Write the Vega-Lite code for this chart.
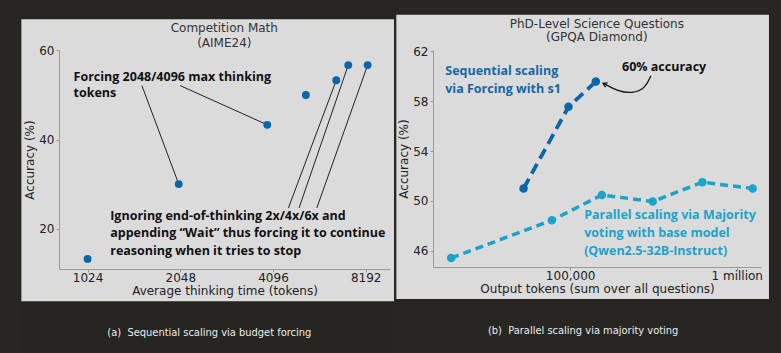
{
  "$schema": "https://vega.github.io/schema/vega-lite/v6.json",
  "background": "#272622",
  "padding": {"left": 21, "top": 14, "right": 12, "bottom": 0},
  "spacing": 2,
  "config": {
    "view": {"stroke": null},
    "axis": {
      "grid": false, "domainColor": "#9a9a9a", "tickColor": "#9a9a9a",
      "labelColor": "#222222", "labelFont": "DejaVu Sans", "labelFontSize": 12,
      "titleColor": "#222222", "titleFont": "DejaVu Sans", "titleFontSize": 12, "titleFontWeight": "normal",
      "labelFlush": false, "labelOverlap": false, "tickSize": 3
    }
  },
  "hconcat": [
    {
      "width": 331, "height": 219,
      "encoding": {
        "x": {"field": "x", "type": "quantitative",
          "scale": {"type": "log", "base": 2, "domain": [827, 9823]},
          "axis": {"zindex": 1, "title": "Average thinking time (tokens)", "values": [1024, 2048, 4096, 8192], "format": "d", "labelPadding": 0, "titlePadding": 2}},
        "y": {"field": "y", "type": "quantitative",
          "scale": {"domain": [10.94, 60.09]},
          "axis": {"zindex": 1, "title": "Accuracy (%)", "values": [20, 40, 60], "labelPadding": 2, "titlePadding": 2}}
      },
      "layer": [
        {"data": {"values": [{"x": 624.2, "x2": 10121, "y": 67.56, "y2": -8.61}]},
         "mark": {"type": "rect", "fill": "#272622", "fillOpacity": 0.01},
         "encoding": {"x2": {"field": "x2"}, "y2": {"field": "y2"}}},
        {"data": {"values": [{"x": 624.2, "x2": 10121, "y": 66.97, "y2": 3.69}]},
         "mark": {"type": "rect", "fill": "#dbdbdb"},
         "encoding": {"x2": {"field": "x2"}, "y2": {"field": "y2"}}},
        {"data": {"values": [
          {"x": 1537, "y": 52.1, "x2": 2024, "y2": 30.0},
          {"x": 2046, "y": 52.1, "x2": 3925, "y2": 43.3},
          {"x": 4597, "y": 24.65, "x2": 6574, "y2": 53.3},
          {"x": 4978, "y": 24.65, "x2": 7190, "y2": 56.7},
          {"x": 5683, "y": 24.65, "x2": 8311, "y2": 56.7}]},
         "mark": {"type": "rule", "color": "#222222", "strokeWidth": 1},
         "encoding": {"x2": {"field": "x2"}, "y2": {"field": "y2"}}},
        {"data": {"values": [
          {"x": 1024, "y": 13.2}, {"x": 2024, "y": 30.0}, {"x": 3925, "y": 43.3},
          {"x": 5238, "y": 50.0}, {"x": 6574, "y": 53.3}, {"x": 7190, "y": 56.7}, {"x": 8311, "y": 56.7}]},
         "mark": {"type": "point", "filled": true, "opacity": 1, "size": 62, "color": "#0b66a8"}},
        {"data": {"values": [
          {"x": 922, "y": 54.09, "text": "Forcing 2048/4096 max thinking"},
          {"x": 922, "y": 50.34, "text": "tokens"},
          {"x": 1213, "y": 22.79, "text": "Ignoring end-of-thinking 2x/4x/6x and"},
          {"x": 1213, "y": 19.03, "text": "appending “Wait” thus forcing it to continue"},
          {"x": 1213, "y": 14.92, "text": "reasoning when it tries to stop"}]},
         "mark": {"type": "text", "align": "left", "baseline": "middle", "font": "Open Sans", "fontWeight": "bold", "fontSize": 12.5, "color": "#111111"},
         "encoding": {"text": {"field": "text"}}},
        {"data": {"values": [
          {"x": 2846, "y": 64.94, "text": "Competition Math"},
          {"x": 2846, "y": 61.67, "text": "(AIME24)"}]},
         "mark": {"type": "text", "align": "center", "baseline": "middle", "font": "DejaVu Sans", "fontSize": 12, "color": "#333333"},
         "encoding": {"text": {"field": "text"}}},
        {"data": {"values": [{"x": 2544, "y": -3.41, "text": "(a)\u00a0 Sequential scaling via budget forcing"}]},
         "mark": {"type": "text", "align": "center", "baseline": "middle", "font": "Liberation Sans Narrow, DejaVu Sans Condensed, Roboto Condensed, sans-serif", "fontSize": 11, "color": "#ececec"},
         "encoding": {"text": {"field": "text"}}}
      ]
    },
    {
      "width": 328, "height": 217,
      "encoding": {
        "x": {"field": "x", "type": "quantitative",
          "scale": {"type": "log", "domain": [15010, 1399000]},
          "axis": {"zindex": 1, "title": "Output tokens (sum over all questions)", "values": [100000, 1000000],
            "labelExpr": "datum.value == 100000 ? '100,000' : '1 million'", "labelPadding": 0, "titlePadding": 2}},
        "y": {"field": "y", "type": "quantitative",
          "scale": {"domain": [44.70, 62.11]},
          "axis": {"zindex": 1, "title": "Accuracy (%)", "values": [46, 50, 54, 58, 62], "labelPadding": 2, "titlePadding": 2}}
      },
      "layer": [
        {"data": {"values": [{"x": 9042, "x2": 1562000, "y": 64.94, "y2": 42.13}]},
         "mark": {"type": "rect", "fill": "#dbdbdb"},
         "encoding": {"x2": {"field": "x2"}, "y2": {"field": "y2"}}},
        {"data": {"values": [
          {"x": 19300, "y": 45.42}, {"x": 77600, "y": 48.45}, {"x": 155000, "y": 50.48},
          {"x": 313000, "y": 49.95}, {"x": 622000, "y": 51.5}, {"x": 1247000, "y": 51.0}]},
         "layer": [
           {"mark": {"type": "line", "color": "#1ba4cb", "strokeWidth": 3.5, "strokeDash": [8, 5]}},
           {"mark": {"type": "point", "filled": true, "opacity": 1, "size": 72, "color": "#1ba4cb"}}
         ]},
        {"data": {"values": [{"x": 52500, "y": 51.0}, {"x": 97700, "y": 57.55}, {"x": 142600, "y": 59.58}]},
         "layer": [
           {"mark": {"type": "line", "color": "#0b66a8", "strokeWidth": 3.8, "strokeDash": [11, 6]}},
           {"mark": {"type": "point", "filled": true, "opacity": 1, "size": 72, "color": "#0b66a8"}}
         ]},
        {"data": {"values": [
          {"x": 17780, "y": 60.44, "text": "Sequential scaling"},
          {"x": 17780, "y": 58.97, "text": "via Forcing with s1"}]},
         "mark": {"type": "text", "align": "left", "baseline": "middle", "font": "Open Sans", "fontWeight": "bold", "fontSize": 12.5, "color": "#1567a6"},
         "encoding": {"text": {"field": "text"}}},
        {"data": {"values": [
          {"x": 121300, "y": 48.85, "text": "Parallel scaling via Majority"},
          {"x": 121300, "y": 47.41, "text": "voting with base model"},
          {"x": 121300, "y": 45.98, "text": "(Qwen2.5-32B-Instruct)"}]},
         "mark": {"type": "text", "align": "left", "baseline": "middle", "font": "Open Sans", "fontWeight": "bold", "fontSize": 12.5, "color": "#1ba4cb"},
         "encoding": {"text": {"field": "text"}}},
        {"data": {"values": [{"x": 366500, "y": 60.71, "text": "60% accuracy"}]},
         "mark": {"type": "text", "align": "center", "baseline": "middle", "font": "Open Sans", "fontWeight": "bold", "fontSize": 12.5, "color": "#111111"},
         "encoding": {"text": {"field": "text"}}},
        {"data": {"values": [
          {"o": 1, "x": 304800, "y": 60.04}, {"o": 2, "x": 281800, "y": 59.0}, {"o": 3, "x": 235500, "y": 58.62},
          {"o": 4, "x": 194100, "y": 58.80}, {"o": 5, "x": 157800, "y": 59.44}]},
         "mark": {"type": "line", "interpolate": "basis", "color": "#111111", "strokeWidth": 1.3},
         "encoding": {"order": {"field": "o", "type": "quantitative"}}},
        {"data": {"values": [{"x": 157800, "y": 59.44}]},
         "mark": {"type": "point", "shape": "M 1.4 -0.9 L 0 0 L 1.4 0.9", "filled": false, "opacity": 1, "size": 30, "angle": 27, "color": "#111111", "strokeWidth": 1.4}},
        {"data": {"values": [
          {"x": 144600, "y": 64.19, "text": "PhD-Level Science Questions"},
          {"x": 144600, "y": 63.17, "text": "(GPQA Diamond)"}]},
         "mark": {"type": "text", "align": "center", "baseline": "middle", "font": "DejaVu Sans", "fontSize": 12, "color": "#333333"},
         "encoding": {"text": {"field": "text"}}},
        {"data": {"values": [{"x": 119700, "y": 39.57, "text": "(b)\u00a0 Parallel scaling via majority voting"}]},
         "mark": {"type": "text", "align": "center", "baseline": "middle", "font": "Liberation Sans Narrow, DejaVu Sans Condensed, Roboto Condensed, sans-serif", "fontSize": 11, "color": "#ececec"},
         "encoding": {"text": {"field": "text"}}}
      ]
    }
  ]
}
